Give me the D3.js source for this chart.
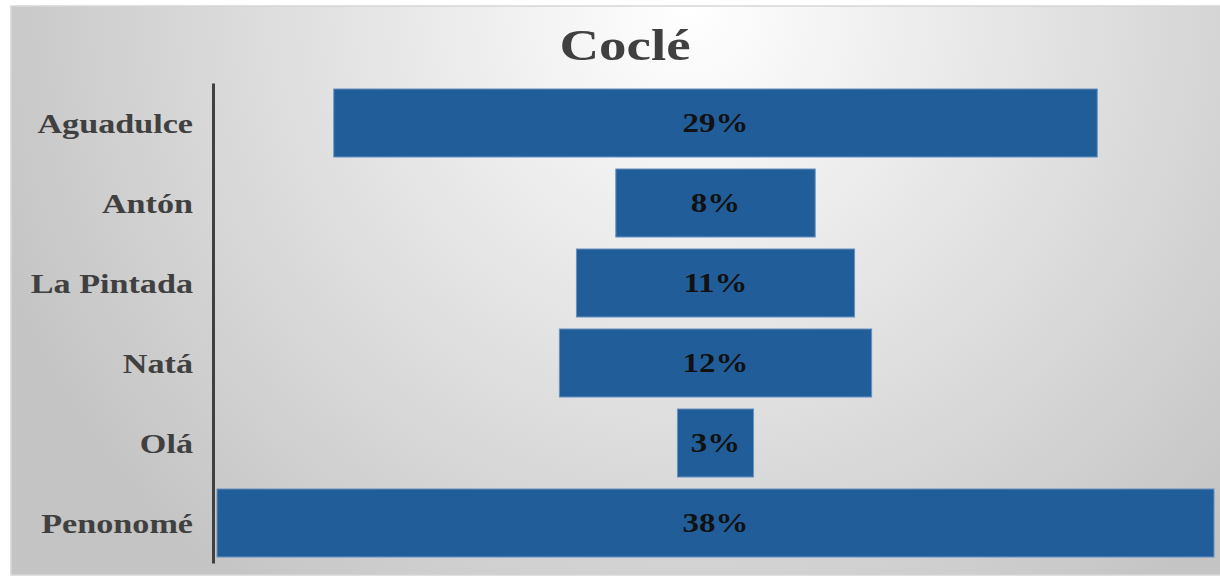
<!DOCTYPE html>
<html>
<head>
<meta charset="utf-8">
<script src="https://cdn.jsdelivr.net/npm/d3@7"></script>
<style>
  body { margin: 0; background: #fff; }
  svg { display: block; }
</style>
</head>
<body>
<script>
// data
var categories = ["Aguadulce", "Antón", "La Pintada", "Natá", "Olá", "Penonomé"];
var values = [29.1, 7.6, 10.6, 11.9, 2.9, 38.0];
var title = "Coclé";

var W = 1220, H = 577;
var stretch = 1.22; // text is drawn wide like the original picture

var svg = d3.select("body").append("svg")
    .attr("width", W)
    .attr("height", H);

// background gradient
var defs = svg.append("defs");
var grad = defs.append("radialGradient")
    .attr("id", "bg")
    .attr("gradientUnits", "userSpaceOnUse")
    .attr("cx", 690).attr("cy", 10).attr("r", 740);
grad.append("stop").attr("offset", 0).attr("stop-color", "#ffffff");
grad.append("stop").attr("offset", 1).attr("stop-color", "#c4c4c4");

svg.append("rect")
    .attr("x", 11).attr("y", 6)
    .attr("width", 1215).attr("height", 569)
    .attr("fill", "url(#bg)")
    .attr("stroke", "#d6d6d6")
    .attr("stroke-width", 1.5);

// scales
var maxVal = d3.max(values);
var x = d3.scaleLinear()
    .domain([-maxVal / 2, maxVal / 2])
    .range([217, 1214]);

var y = d3.scaleBand()
    .domain(categories)
    .range([83, 563])
    .paddingInner(0.15)
    .paddingOuter(0.075);

var data = categories.map(function(c, i) { return {name: c, value: values[i]}; });
var fmt = d3.format(".0f");

// title
svg.append("text")
    .attr("transform", "translate(625,60) scale(" + stretch + ",1)")
    .attr("text-anchor", "middle")
    .style("font-family", "'Liberation Serif', 'Times New Roman', serif")
    .style("font-weight", "bold")
    .style("font-size", "45px")
    .attr("fill", "#404040")
    .text(title);

// bars
svg.selectAll("rect.bar")
    .data(data)
    .join("rect")
    .attr("class", "bar")
    .attr("x", function(d) { return x(-d.value / 2); })
    .attr("y", function(d) { return y(d.name); })
    .attr("width", function(d) { return x(d.value / 2) - x(-d.value / 2); })
    .attr("height", y.bandwidth())
    .attr("fill", "#215e99")
    .attr("stroke", "#6690c0")
    .attr("stroke-width", 1);

// bar labels
svg.selectAll("text.val")
    .data(data)
    .join("text")
    .attr("class", "val")
    .attr("transform", function(d) {
        return "translate(" + x(0) + "," + (y(d.name) + y.bandwidth() / 2 + 9) + ") scale(" + stretch + ",1)";
    })
    .attr("text-anchor", "middle")
    .style("font-family", "'Liberation Serif', 'Times New Roman', serif")
    .style("font-weight", "bold")
    .style("font-size", "27px")
    .attr("fill", "#111")
    .text(function(d) { return fmt(d.value) + "%"; });

// category axis
var axis = svg.append("g")
    .attr("transform", "translate(213,0)")
    .call(d3.axisLeft(y).tickSize(0).tickSizeOuter(0).tickPadding(20));

axis.select(".domain")
    .attr("stroke", "#404040")
    .attr("stroke-width", 3);

axis.selectAll(".tick text")
    .attr("x", -20 / stretch)
    .attr("dy", "0.35em")
    .attr("transform", "scale(" + stretch + ",1)")
    .style("font-family", "'Liberation Serif', 'Times New Roman', serif")
    .style("font-weight", "bold")
    .style("font-size", "28px")
    .attr("fill", "#404040");
</script>
</body>
</html>
